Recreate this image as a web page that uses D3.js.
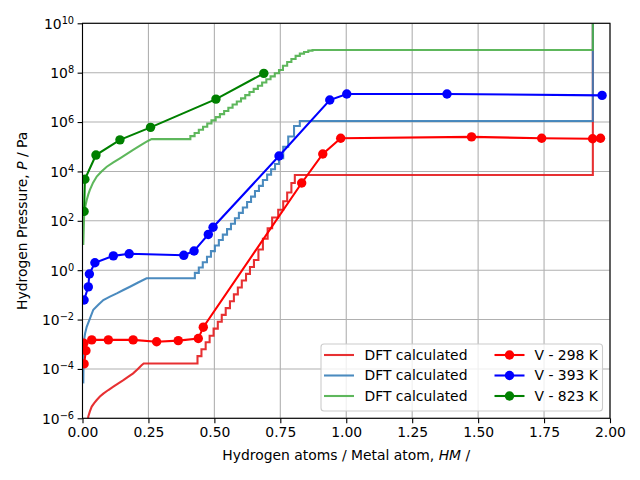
<!DOCTYPE html>
<html>
<head>
<meta charset="utf-8">
<script src="https://cdnjs.cloudflare.com/ajax/libs/d3/7.8.5/d3.min.js"></script>
<style>
body { margin: 0; background: #fff; }
text { font-family: "DejaVu Sans", sans-serif; }
</style>
</head>
<body>
<script>
// tick values
var xTicks = [0, 0.25, 0.5, 0.75, 1.0, 1.25, 1.5, 1.75, 2.0];
var yTickExps = [-6, -4, -2, 0, 2, 4, 6, 8, 10];

// DFT calculated isotherms, x = H/M, P in Pa
// first part (up to the first plateau) is a smooth curve, the rest a staircase
var dftRedX = [0.016, 0.022, 0.028, 0.035, 0.045, 0.054, 0.066, 0.079, 0.098, 0.117, 0.136, 0.155, 0.174, 0.192, 0.208, 0.224, 0.232,
  0.436, 0.451, 0.467, 0.482, 0.497, 0.513, 0.528, 0.543, 0.559, 0.574, 0.589, 0.604, 0.620, 0.635, 0.650,
  0.667, 0.684, 0.702, 0.719, 0.742, 0.761, 0.776, 0.792, 0.805, 1.935];
var dftRedP = [2.5e-7, 1.2e-6, 1.9e-6, 3.0e-6, 4.2e-6, 5.5e-6, 7.6e-6, 1.0e-5, 1.4e-5, 1.9e-5, 2.6e-5, 3.5e-5, 4.9e-5, 6.6e-5, 9.5e-5, 1.4e-4, 1.66e-4,
  3.3e-4, 6.3e-4, 1.2e-3, 2.2e-3, 4.3e-3, 8.1e-3, 1.55e-2, 2.9e-2, 5.5e-2, 0.105, 0.2, 0.38, 0.71, 1.35, 2.6,
  6.9, 18.6, 50, 135, 280, 620, 1.4e3, 3.4e3, 7.2e3, 1e12];
var dftRedSmooth = 17;

var dftBlueX = [0.003, 0.004, 0.006, 0.010, 0.016, 0.028, 0.041, 0.060, 0.079, 0.104, 0.130, 0.155, 0.180, 0.211, 0.243,
  0.426, 0.441, 0.456, 0.472, 0.487, 0.502, 0.517, 0.532, 0.548, 0.563, 0.578, 0.593, 0.608, 0.624, 0.639, 0.654,
  0.669, 0.684, 0.700, 0.715, 0.730, 0.745, 0.761, 0.780, 0.802, 0.824, 1.935];
var dftBlueP = [2.6e-5, 2.3e-4, 1.5e-3, 2.8e-3, 5.1e-3, 1.1e-2, 2.5e-2, 4.0e-2, 6.2e-2, 8.5e-2, 0.115, 0.158, 0.214, 0.316, 0.47,
  0.78, 1.29, 2.1, 3.5, 5.9, 10, 16.6, 27.5, 46, 76, 126, 209, 347, 575, 955, 1.6e3,
  2.6e3, 4.5e3, 7.4e3, 1.23e4, 2.0e4, 3.4e4, 1.0e5, 2.6e5, 6.9e5, 1.1e6, 1e12];
var dftBlueSmooth = 15;

var dftGreenX = [0.003, 0.006, 0.010, 0.016, 0.022, 0.028, 0.040, 0.054, 0.072, 0.092, 0.117, 0.142, 0.167, 0.192, 0.218, 0.243, 0.262,
  0.409, 0.425, 0.441, 0.457, 0.473, 0.489, 0.505, 0.521, 0.537, 0.553, 0.569, 0.585, 0.601, 0.617, 0.633, 0.649,
  0.665, 0.681, 0.697, 0.713, 0.729, 0.745, 0.760, 0.776, 0.792, 0.808, 0.824, 0.840, 0.856, 0.872, 1.935];
var dftGreenP = [10.5, 148, 355, 690, 1.17e3, 1.8e3, 3.5e3, 6.2e3, 1.0e4, 1.55e4, 2.3e4, 3.4e4, 5.0e4, 7.4e4, 1.1e5, 1.6e5, 2.04e5,
  2.7e5, 3.6e5, 4.9e5, 6.5e5, 8.7e5, 1.17e6, 1.58e6, 2.1e6, 2.8e6, 3.8e6, 5.1e6, 6.8e6, 9.1e6, 1.23e7, 1.66e7, 2.2e7,
  2.95e7, 4.0e7, 5.4e7, 7.1e7, 9.5e7, 1.29e8, 1.9e8, 2.7e8, 3.6e8, 4.8e8, 5.9e8, 6.9e8, 7.8e8, 8.3e8, 1e12];
var dftGreenSmooth = 17;

// measured isotherms for V
var v298X = [0.006, 0.013, 0.005, 0.035, 0.098, 0.192, 0.281, 0.363, 0.439, 0.458, 0.831, 0.911, 0.979, 1.475, 1.741, 1.934, 1.964];
var v298P = [1.6e-4, 5.5e-4, 1.1e-3, 1.5e-3, 1.5e-3, 1.5e-3, 1.26e-3, 1.4e-3, 1.7e-3, 4.9e-3, 3.4e3, 5.1e4, 2.2e5, 2.5e5, 2.2e5, 2.1e5, 2.2e5];

var v393X = [0.006, 0.022, 0.026, 0.047, 0.117, 0.177, 0.384, 0.423, 0.477, 0.495, 0.745, 0.9375, 1.002, 1.382, 1.970];
var v393P = [0.062, 0.21, 0.7, 2.0, 3.8, 4.6, 4.0, 6.0, 28, 55, 4.2e4, 7.8e6, 1.37e7, 1.37e7, 1.2e7];

var v823X = [0.006, 0.009, 0.051, 0.142, 0.258, 0.506, 0.6875];
var v823P = [240, 4.8e3, 4.6e4, 1.9e5, 6.1e5, 8.5e6, 9.4e7];

var w = 640, h = 480;
var axLeft = 82.5, axRight = 610, axTop = 23.3, axBottom = 418.3;

var svg = d3.select("body").append("svg").attr("width", w).attr("height", h);

var x = d3.scaleLinear().domain([0, 2]).range([axLeft, axRight]);
var y = d3.scaleLog().domain([1e-6, 1e10]).range([axBottom, axTop]);

svg.append("defs").append("clipPath").attr("id", "plotclip")
   .append("rect").attr("x", axLeft).attr("y", axTop)
   .attr("width", axRight - axLeft).attr("height", axBottom - axTop);

// grid
var grid = svg.append("g");
grid.selectAll("line.gx").data(xTicks).enter().append("line")
   .attr("x1", function(d) { return x(d); }).attr("x2", function(d) { return x(d); })
   .attr("y1", axTop).attr("y2", axBottom)
   .attr("stroke", "#b0b0b0").attr("stroke-width", 1.1);
grid.selectAll("line.gy").data(yTickExps).enter().append("line")
   .attr("y1", function(d) { return y(Math.pow(10, d)); }).attr("y2", function(d) { return y(Math.pow(10, d)); })
   .attr("x1", axLeft).attr("x2", axRight)
   .attr("stroke", "#b0b0b0").attr("stroke-width", 1.1);

var plot = svg.append("g").attr("clip-path", "url(#plotclip)");

function pairs(xs, ps) {
  return xs.map(function(d, i) { return [d, ps[i]]; });
}

var stepLine = d3.line()
   .x(function(d) { return x(d[0]); })
   .y(function(d) { return y(d[1]); })
   .curve(d3.curveStepAfter);

var plainLine = d3.line()
   .x(function(d) { return x(d[0]); })
   .y(function(d) { return y(d[1]); });

var dft = [
  { data: pairs(dftRedX, dftRedP), smooth: dftRedSmooth, color: "#e41a1c" },
  { data: pairs(dftBlueX, dftBlueP), smooth: dftBlueSmooth, color: "#377eb8" },
  { data: pairs(dftGreenX, dftGreenP), smooth: dftGreenSmooth, color: "#4daf4a" }
];
dft.forEach(function(s) {
  var d1 = plainLine(s.data.slice(0, s.smooth));
  var d2 = stepLine(s.data.slice(s.smooth - 1)).replace(/^M/, "L");
  plot.append("path")
     .attr("d", d1 + d2)
     .attr("fill", "none")
     .attr("stroke", s.color)
     .attr("stroke-opacity", 0.9)
     .attr("stroke-width", 2.08);
});

var exp = [
  { data: pairs(v298X, v298P), color: "red", label: "V - 298 K" },
  { data: pairs(v393X, v393P), color: "blue", label: "V - 393 K" },
  { data: pairs(v823X, v823P), color: "green", label: "V - 823 K" }
];
exp.forEach(function(s) {
  plot.append("path").datum(s.data)
     .attr("d", plainLine)
     .attr("fill", "none")
     .attr("stroke", s.color)
     .attr("stroke-width", 2.08);
  plot.selectAll(null).data(s.data).enter().append("circle")
     .attr("cx", function(d) { return x(d[0]); })
     .attr("cy", function(d) { return y(d[1]); })
     .attr("r", 4.7)
     .attr("fill", s.color);
});

// axes
var xAxis = svg.append("g").attr("transform", "translate(0," + axBottom + ")")
   .call(d3.axisBottom(x).tickValues(xTicks).tickFormat(d3.format(".2f")).tickSize(4.9).tickPadding(3.5));
xAxis.select(".domain").remove();
xAxis.selectAll("text").attr("font-size", "13.9px").attr("font-family", "DejaVu Sans").attr("fill", "#000");
xAxis.selectAll("line").attr("stroke-width", 1.1);

var yAxis = svg.append("g").attr("transform", "translate(" + axLeft + ",0)")
   .call(d3.axisLeft(y).tickValues(yTickExps.map(function(e) { return Math.pow(10, e); })).tickFormat("").tickSize(4.9));
yAxis.select(".domain").remove();
yAxis.selectAll("line").attr("stroke-width", 1.1);
yAxis.selectAll("g.tick text").remove();

yAxis.selectAll("g.tick").data(yTickExps).each(function(e) {
  var t = d3.select(this).append("text")
     .attr("x", -8.4).attr("dy", "0.35em")
     .attr("text-anchor", "end")
     .attr("font-size", "13.9px").attr("font-family", "DejaVu Sans").attr("fill", "#000");
  t.append("tspan").text("10");
  t.append("tspan").attr("dy", "-0.5em").attr("font-size", "9.8px")
     .text(e < 0 ? "\u2212" + Math.abs(e) : String(e));
});

// frame
svg.append("rect").attr("x", axLeft).attr("y", axTop)
   .attr("width", axRight - axLeft).attr("height", axBottom - axTop)
   .attr("fill", "none").attr("stroke", "#000").attr("stroke-width", 1.1);

// axis labels
var xl = svg.append("text").attr("x", (axLeft + axRight) / 2).attr("y", 460)
   .attr("text-anchor", "middle").attr("font-size", "13.9px");
xl.append("tspan").text("Hydrogen atoms / Metal atom, ");
xl.append("tspan").attr("font-style", "italic").text("HM");
xl.append("tspan").text(" /");

var yl = svg.append("text").attr("transform", "translate(27," + ((axTop + axBottom) / 2) + ") rotate(-90)")
   .attr("text-anchor", "middle").attr("font-size", "13.9px");
yl.append("tspan").text("Hydrogen Pressure, ");
yl.append("tspan").attr("font-style", "italic").text("P");
yl.append("tspan").text(" / Pa");

// legend
var lg = svg.append("g");
lg.append("rect").attr("x", 321).attr("y", 344).attr("width", 281.5).attr("height", 67)
   .attr("rx", 3).attr("fill", "#fff").attr("fill-opacity", 0.8)
   .attr("stroke", "#cccccc").attr("stroke-width", 1.1);

var rowY = [355, 375.5, 396];
dft.forEach(function(s, i) {
  lg.append("line").attr("x1", 324).attr("x2", 354).attr("y1", rowY[i]).attr("y2", rowY[i])
     .attr("stroke", s.color).attr("stroke-opacity", 0.9).attr("stroke-width", 2.08);
  lg.append("text").attr("x", 364.5).attr("y", rowY[i]).attr("dy", "0.35em")
     .attr("font-size", "13.9px").text("DFT calculated");
});
exp.forEach(function(s, i) {
  lg.append("line").attr("x1", 494.5).attr("x2", 524.5).attr("y1", rowY[i]).attr("y2", rowY[i])
     .attr("stroke", s.color).attr("stroke-width", 2.08);
  lg.append("circle").attr("cx", 509.5).attr("cy", rowY[i]).attr("r", 4.7).attr("fill", s.color);
  lg.append("text").attr("x", 534.5).attr("y", rowY[i]).attr("dy", "0.35em")
     .attr("font-size", "13.9px").text(s.label);
});
</script>
</body>
</html>
